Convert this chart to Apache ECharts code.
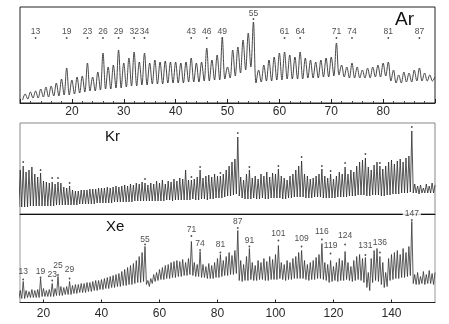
<!DOCTYPE html>
<html>
<head>
<meta charset="utf-8">
<script src="https://cdn.jsdelivr.net/npm/echarts@6/dist/echarts.min.js"></script>
<style>
  html, body { margin: 0; padding: 0; background: #fff; }
  #main { width: 449px; height: 324px; }
</style>
</head>
<body>
<div id="main"></div>
<script>
// Ar: cluster size n = 11..90, peak height and the valley just before each peak (n - 0.5)
const arStart = 11;
const arPeaks = [
  9, 11, 12, 14, 16, 17, 20, 24, 35, 23,
  26, 27, 40, 26, 31, 50, 36, 38, 53, 40,
  45, 51, 41, 50, 40, 43, 41, 42, 41, 41,
  40, 41, 45, 40, 41, 55, 43, 48, 65, 36,
  53, 56, 63, 70, 81, 33, 38, 43, 46, 50,
  51, 48, 46, 51, 45, 43, 41, 43, 45, 46,
  60, 38, 36, 40, 36, 33, 35, 36, 38, 40,
  41, 33, 28, 31, 30, 33, 35, 30, 28, 26
];
const arValleys = [
  3, 4, 5, 5, 6, 6, 7, 7, 8, 8,
  9, 10, 11, 12, 12, 13, 14, 14, 15, 15,
  16, 17, 17, 18, 18, 19, 19, 19, 20, 20,
  20, 20, 21, 21, 21, 22, 22, 23, 23, 24,
  25, 27, 30, 33, 36, 20, 21, 22, 22, 23,
  23, 24, 24, 24, 24, 25, 25, 25, 26, 26,
  27, 28, 26, 25, 25, 25, 25, 25, 26, 26,
  27, 22, 20, 20, 21, 21, 22, 22, 22, 22
];
const arMagic = [13, 19, 23, 26, 29, 32, 34, 43, 46, 49, 55, 61, 64, 71, 74, 81, 87];
const arDotH  = [65, 65, 65, 65, 65, 65, 65, 65, 65, 65, 84, 65, 65, 65, 65, 65, 65];
const arLabelH = [71, 71, 71, 71, 71, 71, 71, 71, 71, 71, 89, 71, 71, 71, 71, 71, 71];

// Kr: n = 12..155
const krStart = 12;
const krPeaks = [
  44, 48, 42, 44, 47, 40, 37, 41, 33,
  32, 31, 32, 30, 32, 31, 27, 26, 28, 24,
  23, 23, 24, 24, 24, 25, 25, 25, 26, 26,
  26, 27, 26, 27, 28, 27, 28, 29, 28, 30,
  29, 31, 30, 32, 31,
  29, 31, 30, 33, 31,
  34, 30, 33, 32, 35, 33, 36, 35, 44, 34,
  34, 35, 37, 44, 36, 38, 39, 37, 40, 38,
  38, 40, 44, 48, 52, 55, 77, 37, 34, 40,
  44, 36, 38, 35, 40, 38, 42, 37, 41, 40,
  45, 38, 36, 34, 38, 40, 44, 48, 53, 40,
  38, 35, 36, 38, 40, 45, 38, 36, 40, 35,
  38, 42, 40, 47, 40, 44, 42, 48, 52, 54,
  56, 47, 44, 49, 52, 48, 45, 48, 52, 54,
  50, 53, 55, 52, 56, 58, 83,
  30, 28, 29, 26, 30, 28, 31, 29
];
const krValleys = [
  7, 7, 7, 7, 8, 8, 8, 8, 8,
  8, 8, 8, 8, 9, 9, 9, 9, 9, 9,
  9, 9, 10, 10, 10, 10, 10, 10, 11, 11,
  11, 11, 11, 11, 12, 12, 12, 12, 12, 12,
  12, 13, 13, 13, 13,
  13, 13, 13, 13, 13,
  13, 13, 14, 14, 13, 14, 14, 14, 14, 14,
  14, 15, 14, 14, 15, 15, 14, 15, 15, 16,
  16, 16, 17, 18, 18, 19, 20, 18, 16, 15,
  15, 15, 16, 15, 15, 16, 15, 15, 16, 16,
  16, 16, 15, 15, 16, 16, 17, 17, 17, 17,
  16, 16, 16, 17, 17, 17, 16, 16, 16, 16,
  16, 17, 17, 17, 17, 18, 18, 18, 19, 19,
  19, 18, 18, 19, 19, 19, 18, 18, 19, 19,
  20, 20, 20, 21, 21, 21, 22,
  21, 21, 20, 21, 21, 21, 21, 21
];
const krMagic = [13, 19, 23, 25, 29, 55, 71, 74, 81, 87, 91, 101, 109, 116, 119, 124, 131, 136, 147];
const krDotH  = [52, 44, 36, 36, 31, 35, 37, 47, 41, 81, 47, 48, 57, 48, 43, 51, 60, 51, 87];

// Xe: n = 12..155
const xeStart = 12;
const xePeaks = [
  12, 21, 12, 11, 13, 12, 13, 24, 14,
  12, 13, 19, 14, 26, 16, 15, 16, 21, 17,
  18, 18, 19, 19, 20, 20, 21, 22, 22, 23,
  24, 25, 26, 27, 28, 29, 31, 33, 35, 37,
  39, 42, 46, 50, 56,
  22, 24, 28, 30, 33,
  35, 37, 38, 40, 41, 42, 41, 43, 40, 44,
  61, 40, 38, 51, 38, 36, 39, 37, 40, 44,
  48, 42, 46, 50, 47, 52, 72, 42, 38, 46,
  54, 40, 37, 42, 40, 44, 41, 46, 43, 48,
  57, 40, 38, 42, 40, 44, 46, 50, 52, 42,
  38, 40, 42, 45, 48, 59, 40, 38, 42, 36,
  40, 44, 42, 51, 40, 36, 42, 46, 48, 44,
  45, 30, 44, 52, 54, 46, 40, 30, 44, 48,
  50, 52, 48, 54, 50, 56, 81,
  28, 30, 26, 31, 28, 32, 29, 30
];
const xeValleys = [
  4, 4, 4, 5, 5, 5, 5, 5, 6,
  6, 6, 6, 6, 7, 7, 7, 8, 8, 8,
  9, 9, 10, 10, 10, 11, 11, 12, 12, 13,
  13, 14, 14, 15, 15, 16, 16, 17, 17, 18,
  18, 19, 20, 20, 21,
  18, 16, 19, 21, 22,
  23, 23, 24, 24, 25, 25, 26, 26, 27, 27,
  28, 27, 26, 26, 25, 25, 24, 24, 24, 25,
  25, 26, 27, 27, 28, 28, 29, 22, 21, 22,
  22, 23, 22, 22, 23, 23, 22, 22, 23, 23,
  23, 24, 23, 22, 23, 23, 24, 24, 24, 24,
  23, 22, 23, 23, 24, 24, 23, 22, 20, 21,
  22, 21, 22, 22, 23, 22, 21, 22, 23, 22,
  20, 15, 12, 20, 22, 21, 18, 15, 16, 22,
  23, 24, 24, 25, 25, 26, 27,
  19, 18, 18, 19, 18, 19, 19, 18
];
const xeMagic = [13, 19, 23, 25, 29, 55, 71, 74, 81, 87, 91, 101, 109, 116, 119, 124, 131, 136, 147];
const xeDotH  = [23, 25, 22, 27.5, 24, 58, 66.5, 52.5, 50, 74.5, 56, 62, 56, 63, 49, 58, 47.5, 50, 82.5];
const xeLabelH = [31, 31, 27.5, 36.5, 32.5, 63, 73, 59, 57.5, 81, 62, 68.5, 63.5, 71, 56.5, 66.5, 56.5, 60, 88.5];
const xeTicks = [20, 40, 60, 80, 100, 120, 140];

function trace(start, peaks, valleys) {
  const d = [];
  peaks.forEach((p, i) => {
    d.push([start + i - 0.5, valleys[i]]);
    d.push([start + i, p]);
  });
  return d;
}
function pairs(xs, ys) { return xs.map((x, i) => [x, ys[i]]); }

const FONT = 'Liberation Sans, Arial, sans-serif';
const INK = '#2a2a2a';

const chart = echarts.init(document.getElementById('main'));

function dots(idx, xs, ys) {
  return {
    type: 'scatter', xAxisIndex: idx, yAxisIndex: idx,
    data: pairs(xs, ys), symbol: 'circle', symbolSize: 1.8,
    itemStyle: { color: '#222' }, silent: true, z: 5
  };
}
function labels(idx, xs, ys, extra) {
  return {
    type: 'scatter', xAxisIndex: idx, yAxisIndex: idx,
    data: pairs(xs, ys).map(v => {
      const item = { value: v };
      if (extra && extra[v[0]]) item.label = extra[v[0]];
      return item;
    }),
    symbolSize: 0, silent: true, z: 6,
    label: {
      show: true, position: 'inside', formatter: p => String(p.value[0]),
      fontSize: 8.5, fontFamily: FONT, color: '#222'
    }
  };
}

chart.setOption({
  animation: false,
  backgroundColor: '#fff',
  grid: [
    { left: 20, top: 7, width: 415, height: 96, show: true, borderColor: '#222', borderWidth: 1 },
    { left: 20, top: 123, width: 415, height: 91, show: true, borderColor: '#888', borderWidth: 1 },
    { left: 20, top: 214, width: 415, height: 88.5, show: true, borderColor: '#999', borderWidth: 1 }
  ],
  xAxis: [
    {
      gridIndex: 0, type: 'value', min: 10, max: 90, interval: 10,
      axisLine: { lineStyle: { color: '#222', width: 1 } },
      axisTick: { inside: true, length: 4, lineStyle: { color: '#222' } },
      minorTick: { show: true, splitNumber: 5, length: 2, lineStyle: { color: '#444' } },
      axisLabel: { showMinLabel: false, showMaxLabel: false, margin: 3, fontSize: 12, fontFamily: FONT, color: INK },
      splitLine: { show: false }
    },
    {
      gridIndex: 1, type: 'value', min: 11.9, max: 155,
      axisLine: { lineStyle: { color: '#111', width: 1 } },
      axisTick: { show: false }, axisLabel: { show: false }, splitLine: { show: false }
    },
    {
      gridIndex: 2, type: 'value', min: 11.9, max: 155,
      axisLine: { lineStyle: { color: '#222', width: 1 } },
      axisTick: { inside: true, length: 3, customValues: xeTicks, lineStyle: { color: '#222' } },
      axisLabel: { customValues: xeTicks, margin: 5, fontSize: 12, fontFamily: FONT, color: INK },
      splitLine: { show: false }
    }
  ],
  yAxis: [
    { gridIndex: 0, type: 'value', min: 0, max: 96, show: false },
    { gridIndex: 1, type: 'value', min: 0, max: 91, show: false },
    { gridIndex: 2, type: 'value', min: 0, max: 88.5, show: false }
  ],
  graphic: [
    { type: 'text', left: 395, top: 10, style: { text: 'Ar', fontSize: 19, fontFamily: FONT, fill: '#111' } },
    { type: 'text', left: 105, top: 129, style: { text: 'Kr', fontSize: 15, fontFamily: FONT, fill: '#111' } },
    { type: 'text', left: 106, top: 219, style: { text: 'Xe', fontSize: 15, fontFamily: FONT, fill: '#111' } }
  ],
  series: [
    {
      type: 'line', xAxisIndex: 0, yAxisIndex: 0, data: trace(arStart, arPeaks, arValleys),
      showSymbol: false, smooth: 0.35, silent: true,
      lineStyle: { color: '#333', width: 0.9 }
    },
    {
      type: 'line', xAxisIndex: 1, yAxisIndex: 1, data: trace(krStart, krPeaks, krValleys),
      showSymbol: false, silent: true,
      lineStyle: { color: '#2b2b2b', width: 0.8 }
    },
    {
      type: 'line', xAxisIndex: 2, yAxisIndex: 2, data: trace(xeStart, xePeaks, xeValleys),
      showSymbol: false, silent: true,
      lineStyle: { color: '#333', width: 0.8 }
    },
    dots(0, arMagic, arDotH),
    labels(0, arMagic, arLabelH),
    dots(1, krMagic, krDotH),
    dots(2, xeMagic, xeDotH),
    labels(2, xeMagic, xeLabelH, { 147: { backgroundColor: '#fff', padding: [0, 2] } })
  ]
});
</script>
</body>
</html>
